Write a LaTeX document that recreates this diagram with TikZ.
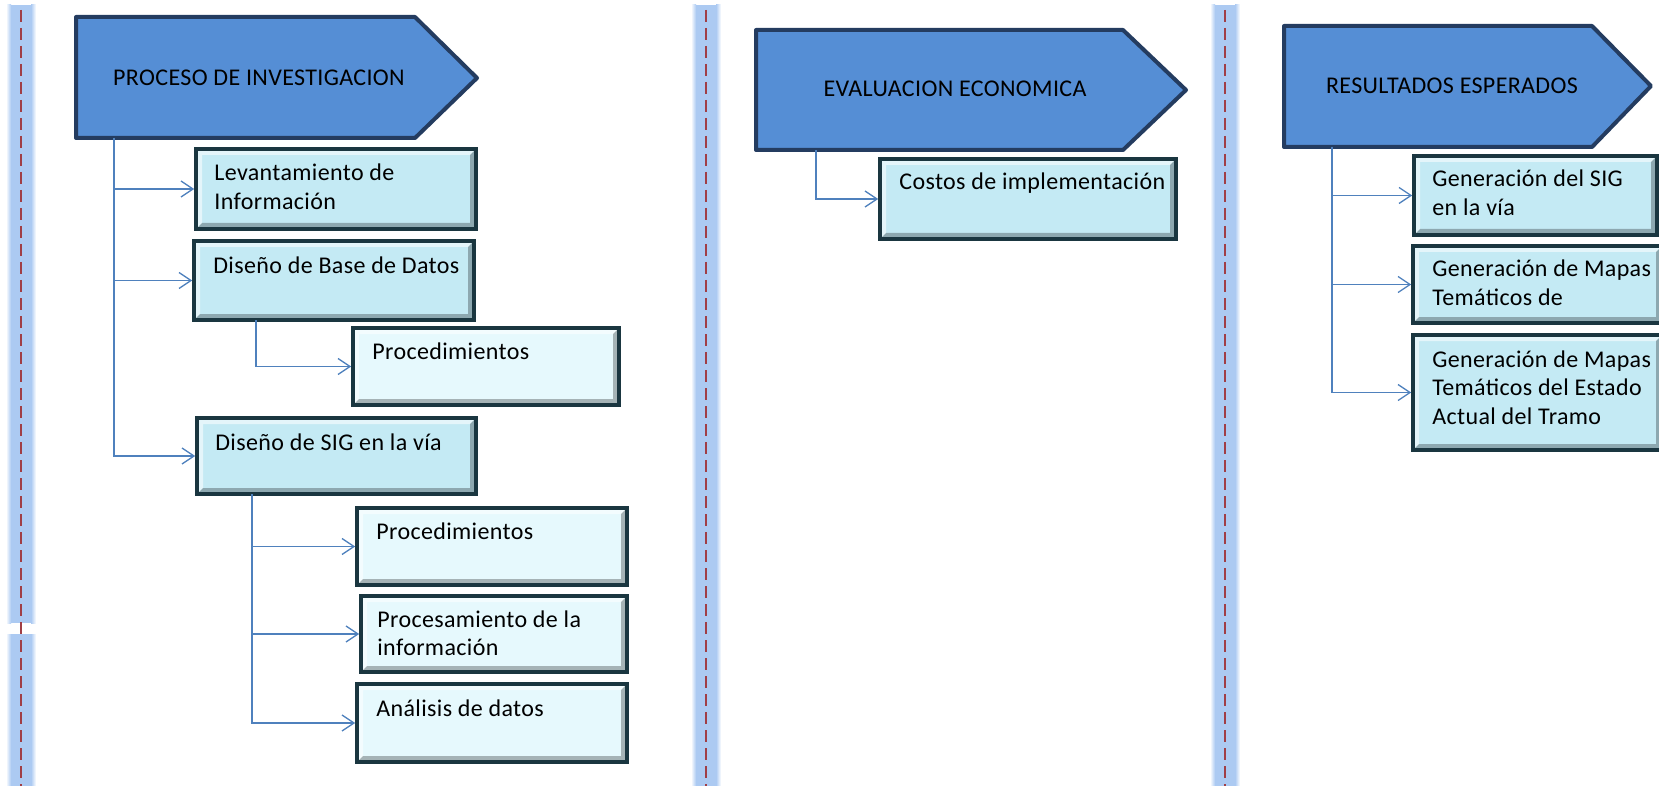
\documentclass[tikz,border=0pt]{standalone}
\usepackage{fontspec}
\setmainfont{Carlito}[LetterSpace=1.5]
\usetikzlibrary{arrows.meta,fit,calc}
\definecolor{hdrfill}{RGB}{85,142,213}
\definecolor{hdrline}{RGB}{36,60,96}
\definecolor{boxfillA}{RGB}{196,234,244}
\definecolor{boxfillB}{RGB}{230,249,253}
\definecolor{boxline}{RGB}{26,54,64}
\definecolor{connblue}{RGB}{79,129,189}
\definecolor{bandblue}{RGB}{172,202,242}
\definecolor{dashred}{RGB}{160,62,70}
\tikzset{
  hdr/.style={fill=hdrfill, draw=hdrline, line width=2pt, line join=round},
  hdrtext/.style={anchor=base, inner sep=0pt, font=\fontsize{12}{14.3}\selectfont},
  boxbase/.style={rectangle, draw=boxline, line width=1.8pt, inner sep=0pt,
    path picture={
      \fill[white, opacity=0.55] (path picture bounding box.north west) -- (path picture bounding box.north east)
        -- ([xshift=-3pt,yshift=-3pt]path picture bounding box.north east) -- ([xshift=3pt,yshift=-3pt]path picture bounding box.north west)
        -- ([xshift=3pt,yshift=3pt]path picture bounding box.south west) -- (path picture bounding box.south west) -- cycle;
      \fill[black, opacity=0.28] (path picture bounding box.south east) -- (path picture bounding box.south west)
        -- ([xshift=3pt,yshift=3pt]path picture bounding box.south west) -- ([xshift=-3pt,yshift=3pt]path picture bounding box.south east)
        -- ([xshift=-3pt,yshift=-3pt]path picture bounding box.north east) -- (path picture bounding box.north east) -- cycle;
    }},
  boxA/.style={boxbase, fill=boxfillA},
  boxB/.style={boxbase, fill=boxfillB},
  boxtext/.style={anchor=base west, inner sep=0pt, text width=170pt, align=flush left, font=\fontsize{12}{14.3}\selectfont},
  conn/.style={draw=connblue, line width=0.65pt, -{Straight Barb[length=6pt,width=8pt]}},
  band/.style={fill=bandblue},
  divider/.style={draw=dashred, line width=1pt, dash pattern=on 6pt off 3pt}
}
\begin{document}
\begin{tikzpicture}[x=0.5pt, y=-0.5pt]
\useasboundingbox (0,0) rectangle (1659,786);
\fill[white] (0,0) rectangle (1659,786);
% lane dividers (glow bands)
\foreach \c/\ya/\yb in {21/623/634, 706/786/786, 1225/786/786}{
  \fill[band] (\c-10,5) rectangle (\c+10,\ya);
  \shade[left color=white, right color=bandblue] (\c-15,5) rectangle (\c-10,\ya);
  \shade[left color=bandblue, right color=white] (\c+10,5) rectangle (\c+15,\ya);
  \fill[band] (\c-10,\yb) rectangle (\c+10,786);
  \shade[left color=white, right color=bandblue] (\c-15,\yb) rectangle (\c-10,786);
  \shade[left color=bandblue, right color=white] (\c+10,\yb) rectangle (\c+15,786);
  \draw[divider] (\c,10) -- (\c,786);
}
% headers
\draw[hdr] (76,17) -- (415,17) -- (477,78) -- (415,138) -- (76,138) -- cycle;
\node[hdrtext] (h1) at (259,86) {PROCESO DE INVESTIGACION};
\draw[hdr] (756,30) -- (1123,30) -- (1186,90) -- (1123,150) -- (756,150) -- cycle;
\node[hdrtext] (h2) at (955,97) {EVALUACION ECONOMICA};
\draw[hdr] (1284,26) -- (1592,26) -- (1651,86) -- (1592,147) -- (1284,147) -- cycle;
\node[hdrtext] (h3) at (1452,94) {RESULTADOS ESPERADOS};
% boxes
\node[boxA, fit={(196,149) (476,229)}] (b1) {};
\node[boxtext] (b1t) at (214,181) {Levantamiento de\\Información};
\node[boxA, fit={(194,241) (474,320)}] (b2) {};
\node[boxtext] (b2t) at (213,273) {Diseño de Base de Datos};
\node[boxB, fit={(353,328) (619,405)}] (b3) {};
\node[boxtext] (b3t) at (372,359) {Procedimientos};
\node[boxA, fit={(197,418) (476,494)}] (b4) {};
\node[boxtext] (b4t) at (215,450) {Diseño de SIG en la vía};
\node[boxB, fit={(357,508) (627,585)}] (b5) {};
\node[boxtext] (b5t) at (376,539) {Procedimientos};
\node[boxB, fit={(361,596) (627,672)}] (b6) {};
\node[boxtext] (b6t) at (377,627) {Procesamiento de la\\información};
\node[boxB, fit={(357,684) (627,762)}] (b7) {};
\node[boxtext] (b7t) at (376,716) {Análisis de datos};
\node[boxA, fit={(880,159) (1176,239)}] (c1) {};
\node[boxtext] (c1t) at (899,190) {Costos de implementación};
\node[boxA, fit={(1414,156) (1657,235)}] (r1) {};
\node[boxtext] (r1t) at (1432,187) {Generación del SIG\\en la vía};
\node[boxA, fit={(1413,246) (1662,323)}] (r2) {};
\node[boxtext] (r2t) at (1432,277) {Generación de Mapas\\Temáticos de};
\node[boxA, fit={(1413,335) (1662,450)}] (r3) {};
\node[boxtext] (r3t) at (1432,367) {Generación de Mapas\\Temáticos del Estado\\Actual del Tramo};
% connector origins
\coordinate (t1) at (114,138);
\coordinate (s2) at (256,320);
\coordinate (s4) at (252,494);
\coordinate (t2) at (816,150);
\coordinate (t3) at (1332,147);
% connectors
\draw[conn] (t1) |- (b1.west);
\draw[conn] (t1) |- (b2.west);
\draw[conn] (t1) |- (b4.west);
\draw[conn] (s2) |- (b3.west);
\draw[conn] (s4) |- (b5.west);
\draw[conn] (s4) |- (b6.west);
\draw[conn] (s4) |- (b7.west);
\draw[conn] (t2) |- (c1.west);
\draw[conn] (t3) |- (r1.west);
\draw[conn] (t3) |- (r2.west);
\draw[conn] (t3) |- (r3.west);
\end{tikzpicture}
\end{document}
